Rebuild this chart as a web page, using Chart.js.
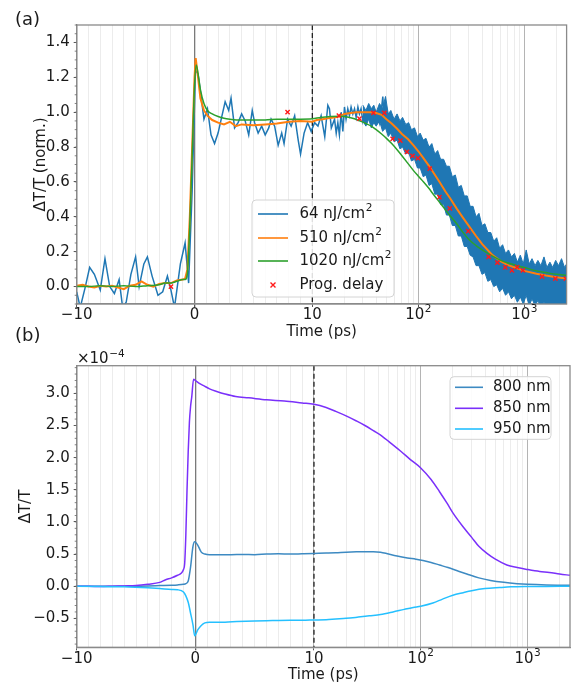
<!DOCTYPE html>
<html>
<head>
<meta charset="utf-8">
<script src="https://cdn.jsdelivr.net/npm/chart.js@4.4.0/dist/chart.umd.min.js"></script>
<style>
  body { margin: 0; background: #fff; width: 572px; height: 686px; position: relative; overflow: hidden; }
  canvas { position: absolute; left: 0; }
  #c1 { top: 0; }
  #c2 { top: 320px; }
</style>
</head>
<body>
<canvas id="c1" width="572" height="345"></canvas>
<canvas id="c2" width="572" height="366"></canvas>
<script>
// ---- panel (a): normalised dT/T, time in ps
const t64 = [-10,-9.7,-9.3,-8.9,-8.5,-8,-7.6,-7.2,-6.8,-6.4,-6.1,-5.8,-5.4,-5,-4.7,-4.3,-4,-3.6,-3.1,-2.7,
  -2.3,-2,-1.7,-1.5,-1.2,-0.8,-0.5,-0.2,0.08,0.3,0.5,0.8,1.1,1.4,1.7,2,2.3,2.6,2.9,3.1,
  3.4,3.7,4,4.3,4.6,4.9,5.1,5.4,5.7,6,6.3,6.5,6.8,7.1,7.4,7.6,7.9,8.2,8.5,8.8,
  9,9.3,9.6,9.9,10.5,11.3,12.1,13.1,14,14.5,15.1,16.2,16.8,17.4,18,18.7,19.4,20.1,20.8,21.6,
  22.4,23.2,24.1,25,25.9,26.9,27.8,28.8,29.9,31,32.1,33.3,34.5,35.8,37.1,38.5,41.4,43,44.5,46.2,47.8,49.5];
const v64 = [-0.03,-0.12,-0.01,0.11,0.07,-0.02,0.16,0,-0.04,0.04,-0.12,-0.09,0.07,0.17,0,0.13,0.17,0.06,-0.05,-0.03,
  0.06,-0.02,-0.12,-0.02,0.13,0.25,0.02,0.55,1.24,1.22,1.12,0.96,1.02,0.87,0.82,0.88,0.97,1.06,1.01,1.08,
  0.91,0.94,0.99,0.95,0.87,1.01,0.94,0.88,0.92,0.87,0.91,0.96,0.92,0.81,0.88,0.82,0.96,0.92,0.98,0.84,
  0.76,0.88,0.94,0.89,0.94,0.92,0.98,0.86,1.04,1.02,0.91,0.96,0.88,0.94,0.87,1.0,0.89,1.03,0.96,1.02,
  0.98,1.03,0.99,1.02,0.97,1.03,0.99,1.02,0.95,1.0,0.96,0.99,1.02,0.98,1.0,0.96,0.99,0.94,1.0,1.09,0.94,0.98];
// noisy 64 nJ/cm2 trace at long delays: upper and lower edge of the band
const bandT = [30,32,34,36,38,40,43,46,49,52,55,59,63,67,71,76,81,86,92,98,104,111,118,126,134,143,152,162,173,184,
  196,209,223,238,254,271,289,308,328,350,373,398,424,452,482,514,548,584,623,664,708,755,805,858,915,975,
  1040,1110,1180,1260,1340,1430,1530,1630,1740,1850,1970,2100,2240,2390,2500];
const bandHi = [1.04,1.01,1.05,1.02,1.04,1.0,1.05,1.02,1.09,0.99,1.01,0.96,0.99,0.95,0.97,0.93,0.94,0.90,0.91,0.86,
  0.88,0.84,0.85,0.80,0.82,0.76,0.78,0.73,0.73,0.69,0.69,0.63,0.64,0.57,0.58,0.52,0.52,0.46,0.46,0.40,
  0.42,0.35,0.36,0.31,0.31,0.26,0.28,0.22,0.24,0.19,0.21,0.17,0.19,0.14,0.18,0.13,0.21,0.13,0.16,0.12,
  0.15,0.12,0.17,0.11,0.14,0.11,0.15,0.12,0.16,0.11,0.13];
const bandLo = [0.95,0.92,0.96,0.91,0.94,0.92,0.95,0.89,0.91,0.86,0.88,0.83,0.84,0.79,0.80,0.76,0.77,0.72,0.73,0.68,
  0.68,0.63,0.64,0.58,0.59,0.53,0.53,0.47,0.47,0.41,0.41,0.35,0.35,0.29,0.29,0.23,0.23,0.18,0.17,0.12,
  0.12,0.07,0.08,0.03,0.04,0.0,0.01,-0.03,-0.01,-0.05,-0.03,-0.07,-0.05,-0.09,-0.06,-0.10,-0.05,-0.11,-0.07,-0.11,
  -0.08,-0.12,-0.09,-0.12,-0.10,-0.12,-0.12,-0.12,-0.12,-0.12,-0.12];
const t510 = [-10,-9.5,-9,-8.5,-8,-7.5,-7,-6.5,-6,-5.5,-5,-4.5,-4,-3.5,-3,-2.5,-2,-1.5,-1,-0.8,
  -0.6,-0.4,-0.2,0,0.1,0.3,0.5,0.8,1.1,1.5,2,2.5,3,3.5,4,5,6,7,8,9,
  10,11,12.5,14,16,18,20,23,26,30,35,40,45,50,56,63,70,80,90,100,
  112,125,140,160,180,200,230,260,300,350,400,500,600,700,850,1000,1300,1600,2000,2500];
const v510 = [0.005,0.01,0,-0.005,0.005,0,0.005,-0.005,-0.015,0.005,0.01,0.03,0.01,0,0.015,0.02,0.02,0.035,0.04,0.045,
  0.1,0.4,0.8,1.2,1.31,1.2,1.08,1.01,0.98,0.955,0.94,0.93,0.945,0.92,0.93,0.925,0.93,0.935,0.945,0.95,
  0.945,0.955,0.96,0.965,0.97,0.975,0.99,0.995,1.0,1.0,1.0,0.995,0.985,0.96,0.935,0.905,0.875,0.845,0.81,0.776,
  0.735,0.695,0.65,0.595,0.545,0.505,0.447,0.4,0.347,0.29,0.243,0.18,0.145,0.123,0.105,0.09,0.074,0.063,0.053,0.046];
const t1020 = [-10,-9,-8,-7,-6,-5,-4,-3,-2.5,-2,-1.5,-1,-0.8,-0.6,-0.4,-0.2,0,0.15,0.3,0.5,
  0.8,1.1,1.5,2,2.5,3,4,5,6,7,8,9,10,12,15,18,20,24,28,32,
  36,40,45,50,56,63,70,80,90,100,112,125,140,160,180,200,230,260,300,350,
  400,500,600,700,850,1000,1300,1600,2000,2500];
const v1020 = [0,0,0.005,0,0.005,0,0.005,0.01,0.02,0.02,0.03,0.04,0.04,0.08,0.35,0.75,1.15,1.27,1.22,1.13,
  1.05,1.01,0.99,0.975,0.965,0.96,0.955,0.955,0.955,0.96,0.96,0.96,0.962,0.97,0.975,0.977,0.975,0.965,0.95,0.935,
  0.92,0.9,0.875,0.85,0.82,0.785,0.75,0.705,0.665,0.633,0.6,0.565,0.525,0.48,0.44,0.405,0.36,0.315,0.27,0.235,
  0.21,0.175,0.15,0.135,0.12,0.109,0.09,0.08,0.07,0.065];
const tProg = [-2,7.9,17.8,27.8,37.7,47.8,57.2,67.6,78,88,99,128,158,198,295,460,556,661,763,855,967,1467,1959,2460];
const vProg = [0,1.0,0.98,0.963,0.996,0.996,0.847,0.837,0.772,0.75,0.736,0.677,0.513,0.448,0.318,0.17,0.137,0.11,0.093,0.112,0.093,0.057,0.046,0.046];

// ---- panel (b): dT/T in units of 1e-4
const t800 = [-10,-8,-6,-4,-3,-2,-1.5,-1,-0.8,-0.6,-0.4,-0.2,-0.05,0.2,0.5,0.8,1.2,2,3,4,
  5,6,7,8,9,10,13,16,20,25,30,36,42,50,60,75,90,105,125,150,180,220,270,350,450,600,800,1000,1500,2500];
const v800 = [0,0,0,0.005,0.01,0.015,0.02,0.03,0.04,0.08,0.3,0.62,0.69,0.64,0.53,0.5,0.49,0.49,0.49,0.495,
  0.49,0.5,0.505,0.5,0.505,0.51,0.515,0.52,0.53,0.535,0.535,0.535,0.53,0.5,0.47,0.44,0.42,0.4,0.37,0.33,
  0.29,0.24,0.19,0.13,0.09,0.06,0.04,0.03,0.02,0.015];
const t850 = [-10,-9,-8,-7,-6,-5,-4,-3,-2.5,-2,-1.5,-1.2,-1,-0.9,-0.8,-0.7,-0.6,-0.5,-0.4,-0.3,
  -0.15,0,0.3,0.7,1.2,1.8,2.5,3.4,4.5,6,7.5,9,10,13,16,20,25,30,36,43,
  52,65,80,100,125,150,175,200,250,300,350,417,500,640,800,1000,1300,1600,2000,2500];
const v850 = [0,0,-0.005,0,0.005,0.01,0.03,0.06,0.1,0.13,0.17,0.2,0.26,0.35,0.8,1.5,2.1,2.55,2.8,2.95,
  3.22,3.2,3.16,3.12,3.07,3.03,2.99,2.95,2.93,2.9,2.88,2.85,2.83,2.78,2.72,2.65,2.57,2.5,2.42,2.34,
  2.23,2.1,1.97,1.84,1.66,1.47,1.3,1.14,0.92,0.76,0.62,0.51,0.42,0.33,0.29,0.26,0.23,0.215,0.19,0.17];
const t950 = [-10,-8,-6,-4,-3,-2,-1.5,-1,-0.8,-0.6,-0.4,-0.2,-0.05,0.2,0.5,0.8,1.2,1.8,2.5,3.5,
  5,6.5,8,9,10,13,16,20,26,33,42,55,70,85,100,130,160,200,250,300,400,550,700,1000,1500,2500];
const v950 = [0,-0.005,-0.01,-0.025,-0.036,-0.05,-0.055,-0.09,-0.15,-0.25,-0.42,-0.6,-0.77,-0.68,-0.61,-0.57,-0.56,-0.56,-0.56,-0.55,
  -0.54,-0.535,-0.53,-0.53,-0.525,-0.52,-0.51,-0.5,-0.48,-0.46,-0.44,-0.4,-0.36,-0.33,-0.31,-0.26,-0.2,-0.14,-0.1,-0.07,
  -0.036,-0.02,-0.01,-0.005,-0.003,0];

// ---- axes
const xTickValues = [-10, 0, 10, 100, 1000];
const xTickLabels = ['\u221210', '0', '10', '10^2', '10^3'];
const xMinorValues = [-9,-8,-7,-6,-5,-4,-3,-2,-1,1,2,3,4,5,6,7,8,9,
  20,30,40,50,60,70,80,90,200,300,400,500,600,700,800,900,2000];
const yTicksA = [0, 0.2, 0.4, 0.6, 0.8, 1.0, 1.2, 1.4];
const yTicksB = [-0.5, 0, 0.5, 1.0, 1.5, 2.0, 2.5, 3.0];
const markerTime = 10;

const FONT = 'DejaVu Sans';
const INK = '#1a1a1a';
const SPINE = '#8a8a8a';

// symmetric log axis: linear inside +-10 ps, log outside (matplotlib 'symlog')
const LINTHRESH = 10, LINSCALE = 1 / (1 - 1 / 10);
function symlog(v) {
  const a = Math.abs(v);
  const s = a <= LINTHRESH ? a / LINTHRESH * LINSCALE : LINSCALE + Math.log10(a / LINTHRESH);
  return v < 0 ? -s : s;
}
function symexp(s) {
  const a = Math.abs(s);
  const v = a <= LINSCALE ? a / LINSCALE * LINTHRESH : LINTHRESH * Math.pow(10, a - LINSCALE);
  return s < 0 ? -v : v;
}
class SymlogScale extends Chart.Scale {
  determineDataLimits() {
    this.min = this.options.min;
    this.max = this.options.max;
  }
  buildTicks() {
    const ticks = xTickValues.map(v => ({value: v, major: true}))
      .concat(xMinorValues.map(v => ({value: v, major: false})));
    return ticks.sort((a, b) => a.value - b.value);
  }
  configure() {
    super.configure();
    this._s0 = symlog(this.min);
    this._s1 = symlog(this.max);
  }
  getLabelForValue(v) { return String(v); }
  getPixelForValue(v) {
    return this.getPixelForDecimal((symlog(v) - this._s0) / (this._s1 - this._s0));
  }
  getValueForPixel(p) {
    return symexp(this._s0 + this.getDecimalForPixel(p) * (this._s1 - this._s0));
  }
}
SymlogScale.id = 'symlog';
SymlogScale.defaults = {};
Chart.register(SymlogScale);

const pts = (ts, vs) => ts.map((t, i) => ({x: t, y: vs[i]}));
const fmt = v => v.toFixed(1).replace('-', '\u2212');

// text with an optional "^" superscript part (matplotlib mathtext look)
function supText(ctx, text, x, y, align) {
  const [base, sup] = text.split('^');
  ctx.font = '15px "' + FONT + '"';
  const wb = ctx.measureText(base).width;
  ctx.font = '10.5px "' + FONT + '"';
  const ws = sup ? ctx.measureText(sup).width + 0.5 : 0;
  const x0 = align === 'center' ? x - (wb + ws) / 2 : x;
  ctx.textAlign = 'left';
  ctx.font = '15px "' + FONT + '"';
  ctx.fillText(base, x0, y);
  if (sup) {
    ctx.font = '10.5px "' + FONT + '"';
    ctx.fillText(sup, x0 + wb + 0.5, y - 6);
  }
}

function xAxis(height, titlePad) {
  return {
    type: 'symlog', min: -10, max: 2500,
    afterFit: s => { s.height = height; },
    ticks: {
      autoSkip: false, maxRotation: 0, padding: 1, color: INK,
      font: {family: FONT, size: 15, lineHeight: 1},
      callback: (v, i, ticks) => {
        if (!ticks[i].major) return '';
        const lab = xTickLabels[xTickValues.indexOf(v)];
        return lab.includes('^') ? '' : lab;   // powers of ten are drawn by the panel plugin
      }
    },
    grid: {
      color: c => c.tick.value === 0 ? '#7a7a7a' : (c.tick.major ? '#b4b4b4' : '#ececec'),
      lineWidth: c => c.tick.value === 0 ? 1.3 : 1,
      tickColor: c => c.tick.major ? '#555' : 'rgba(0,0,0,0)',
      tickLength: 3
    },
    border: {color: SPINE, width: 1.3},
    title: {display: true, text: 'Time (ps)', color: INK, font: {family: FONT, size: 15},
            padding: {top: 0, bottom: titlePad}}
  };
}
function yAxis(min, max, ticks, title, titlePad) {
  return {
    min: min, max: max,
    afterBuildTicks: s => { s.ticks = ticks.map(v => ({value: v})); },
    afterFit: s => { s.width = 76.7; },
    ticks: {padding: 4, color: INK, font: {family: FONT, size: 15}, callback: v => fmt(v)},
    grid: {drawOnChartArea: false, tickLength: 3, tickColor: '#555'},
    border: {color: SPINE, width: 1.3},
    title: {display: true, text: title, color: INK, font: {family: FONT, size: 15},
            padding: {top: titlePad, bottom: 0}}
  };
}

// dashed marker, frame, minor ticks, legend, panel letters
const panelPlugin = {
  id: 'panel',
  beforeDatasetsDraw(chart) {
    const {ctx, chartArea: a, scales: {x}} = chart;
    const px = x.getPixelForValue(markerTime);
    ctx.save();
    ctx.strokeStyle = '#222';
    ctx.lineWidth = 1.3;
    ctx.setLineDash([5, 3]);
    ctx.beginPath();
    ctx.moveTo(px, a.top);
    ctx.lineTo(px, a.bottom);
    ctx.stroke();
    ctx.restore();
  },
  afterDraw(chart, args, o) {
    const {ctx, chartArea: a, scales: {x, y}} = chart;
    ctx.save();
    ctx.strokeStyle = SPINE;
    ctx.lineWidth = 1.3;
    ctx.strokeRect(a.left, a.top, a.right - a.left, a.bottom - a.top);

    // minor y ticks
    ctx.strokeStyle = '#666';
    ctx.lineWidth = 0.8;
    for (let v = o.minorFrom; v <= y.max + 1e-9; v += o.minorStep) {
      const py = y.getPixelForValue(v);
      if (py < a.top - 0.5 || py > a.bottom + 0.5) continue;
      ctx.beginPath();
      ctx.moveTo(a.left - 2, py);
      ctx.lineTo(a.left, py);
      ctx.stroke();
    }

    // power-of-ten tick labels
    ctx.fillStyle = INK;
    ctx.textBaseline = 'middle';
    xTickValues.forEach((v, i) => {
      if (xTickLabels[i].includes('^')) supText(ctx, xTickLabels[i], x.getPixelForValue(v), a.bottom + 11.5, 'center');
    });

    // legend
    const items = chart.data.datasets.filter(d => d.label).sort((p, q) => q.order - p.order);
    const [bx, by, bw, bh] = o.box;
    ctx.beginPath();
    ctx.roundRect(bx, by, bw, bh, 4);
    ctx.fillStyle = 'rgba(255,255,255,0.85)';
    ctx.fill();
    ctx.strokeStyle = '#d4d4d4';
    ctx.lineWidth = 1;
    ctx.stroke();
    items.forEach((d, i) => {
      const ry = o.rows[i];
      ctx.strokeStyle = d.borderColor;
      if (d.showLine === false) {
        const cx = (o.handle[0] + o.handle[1]) / 2;
        ctx.lineWidth = 1.4;
        ctx.beginPath();
        ctx.moveTo(cx - 2.5, ry - 2.5); ctx.lineTo(cx + 2.5, ry + 2.5);
        ctx.moveTo(cx - 2.5, ry + 2.5); ctx.lineTo(cx + 2.5, ry - 2.5);
        ctx.stroke();
      } else {
        ctx.lineWidth = 1.6;
        ctx.beginPath();
        ctx.moveTo(o.handle[0], ry);
        ctx.lineTo(o.handle[1], ry);
        ctx.stroke();
      }
      ctx.fillStyle = INK;
      supText(ctx, d.label, o.textX, ry, 'left');
    });

    // panel letter
    ctx.textBaseline = 'alphabetic';
    ctx.font = '18px "' + FONT + '"';
    ctx.fillStyle = INK;
    ctx.fillText(o.letter, 15, o.letterY);

    // offset text of the y axis
    if (o.offset) supText(ctx, '\u00d710^\u22124', 77, o.offset, 'left');
    ctx.restore();
  }
};

const line = (label, data, color, order, width) => ({
  label: label, data: data, borderColor: color, backgroundColor: color,
  borderWidth: width || 1.5, pointRadius: 0, tension: 0, order: order
});
const smooth = ds => Object.assign(ds, {cubicInterpolationMode: 'monotone'});

const common = {
  responsive: false, animation: false,
  plugins: {legend: {display: false}, tooltip: {enabled: false}}
};

const blue = '#1f77b4', orange = '#ff7f0e', green = '#2ca02c';

new Chart(document.getElementById('c1'), {
  type: 'line',
  data: {
    datasets: [
      {label: 'Prog. delay', data: pts(tProg, vProg), showLine: false, pointStyle: 'crossRot',
       pointRadius: 3, borderColor: '#ff1a1a', backgroundColor: '#ff1a1a', borderWidth: 1.4, order: 0},
      smooth(line('1020 nJ/cm^2', pts(t1020, v1020), green, 1)),
      line('510 nJ/cm^2', pts(t510, v510), orange, 2, 2),
      line('64 nJ/cm^2', pts(t64, v64), blue, 3),
      Object.assign(line('', pts(bandT, bandHi), blue, 4, 1), {fill: '+1', clip: 0}),
      Object.assign(line('', pts(bandT, bandLo), blue, 5, 1), {clip: 0})
    ]
  },
  options: Object.assign({}, common, {
    layout: {padding: {top: 25, right: 2, left: 0, bottom: 0}},
    scales: {
      x: xAxis(41, 4),
      y: yAxis(-0.1, 1.5, yTicksA, '\u0394T/T (norm.)', 32)
    },
    plugins: Object.assign({}, common.plugins, {
      panel: {letter: '(a)', letterY: 25, minorFrom: -0.1, minorStep: 0.05,
              box: [252, 200, 142, 97], rows: [214, 238, 261, 285], handle: [258, 288], textX: 299.5}
    })
  }),
  plugins: [panelPlugin]
});

new Chart(document.getElementById('c2'), {
  type: 'line',
  data: {
    datasets: [
      smooth(line('800 nm', pts(t800, v800), '#3d8ac2', 3)),
      smooth(line('850 nm', pts(t850, v850), '#7a30fa', 2)),
      smooth(line('950 nm', pts(t950, v950), '#25c0ff', 1))
    ]
  },
  options: Object.assign({}, common, {
    layout: {padding: {top: 45.7, right: 2, left: 0, bottom: 0}},
    scales: {
      x: xAxis(38.7, 2),
      y: yAxis(-0.95, 3.43, yTicksB, '\u0394T/T', 17)
    },
    plugins: Object.assign({}, common.plugins, {
      panel: {letter: '(b)', letterY: 21, minorFrom: -0.9, minorStep: 0.1, offset: 43,
              box: [450, 56.7, 101, 62.6], rows: [67.3, 88.3, 109], handle: [455, 483], textX: 493}
    })
  }),
  plugins: [panelPlugin]
});
</script>
</body>
</html>
